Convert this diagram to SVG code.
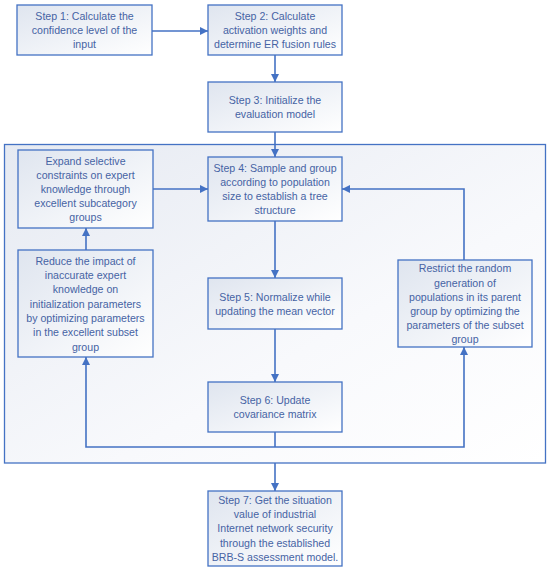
<svg xmlns="http://www.w3.org/2000/svg" width="550" height="569" viewBox="0 0 550 569">
<defs>
<linearGradient id="bg" x1="0" y1="0" x2="1" y2="1">
<stop offset="0" stop-color="#dfe5ef"/>
<stop offset="1" stop-color="#ffffff"/>
</linearGradient>
<linearGradient id="cg" x1="0" y1="0" x2="1" y2="1">
<stop offset="0" stop-color="#e6eaf2"/>
<stop offset="0.6" stop-color="#f8f9fc"/>
<stop offset="1" stop-color="#ffffff"/>
</linearGradient>
<marker id="ah" viewBox="0 0 10 10" refX="10" refY="5" markerWidth="8" markerHeight="8" markerUnits="userSpaceOnUse" orient="auto">
<path d="M0,0 L10,5 L0,10 z" fill="#4472c4"/>
</marker>
<style>
.box{fill:url(#bg);stroke:#4472c4;stroke-width:1.3}
.cont{fill:url(#cg);stroke:#4472c4;stroke-width:1.3}
.t{font-family:"Liberation Sans",Arial,sans-serif;font-size:10.6px;fill:#4663a4;text-anchor:middle}
.c{fill:none;stroke:#4472c4;stroke-width:1.6}
.a{marker-end:url(#ah)}
</style>
</defs>
<rect id="container" class="cont" x="4.5" y="144.5" width="541" height="318.5"/>
<g id="step1"><rect class="box" x="17" y="5" width="135" height="50"/>
<text class="t" x="84.5" y="20">Step 1: Calculate the</text>
<text class="t" x="84.5" y="34">confidence level of the</text>
<text class="t" x="84.5" y="48">input</text></g>
<g id="step2"><rect class="box" x="208" y="5" width="134" height="50"/>
<text class="t" x="275" y="20">Step 2: Calculate</text>
<text class="t" x="275" y="34">activation weights and</text>
<text class="t" x="275" y="48">determine ER fusion rules</text></g>
<g id="step3"><rect class="box" x="208" y="82" width="134" height="50"/>
<text class="t" x="275" y="104">Step 3: Initialize the</text>
<text class="t" x="275" y="118">evaluation model</text></g>
<g id="step4"><rect class="box" x="208" y="157" width="134" height="64"/>
<text class="t" x="275" y="172">Step 4: Sample and group</text>
<text class="t" x="275" y="186">according to population</text>
<text class="t" x="275" y="200">size to establish a tree</text>
<text class="t" x="275" y="214">structure</text></g>
<g id="expand"><rect class="box" x="18" y="150" width="135" height="78"/>
<text class="t" x="85.5" y="165">Expand selective</text>
<text class="t" x="85.5" y="179">constraints on expert</text>
<text class="t" x="85.5" y="193">knowledge through</text>
<text class="t" x="85.5" y="207">excellent subcategory</text>
<text class="t" x="85.5" y="221">groups</text></g>
<g id="reduce"><rect class="box" x="18" y="250" width="135" height="107"/>
<text class="t" x="85.5" y="265">Reduce the impact of</text>
<text class="t" x="85.5" y="279">inaccurate expert</text>
<text class="t" x="85.5" y="293">knowledge on</text>
<text class="t" x="85.5" y="308">initialization parameters</text>
<text class="t" x="85.5" y="322">by optimizing parameters</text>
<text class="t" x="85.5" y="336">in the excellent subset</text>
<text class="t" x="85.5" y="351">group</text></g>
<g id="step5"><rect class="box" x="208" y="278" width="134" height="51"/>
<text class="t" x="275" y="301">Step 5: Normalize while</text>
<text class="t" x="275" y="315">updating the mean vector</text></g>
<g id="restrict"><rect class="box" x="398" y="260" width="134" height="87"/>
<text class="t" x="465" y="272">Restrict  the random</text>
<text class="t" x="465" y="287">generation of</text>
<text class="t" x="465" y="301">populations in its parent</text>
<text class="t" x="465" y="315">group by optimizing the</text>
<text class="t" x="465" y="329">parameters of the subset</text>
<text class="t" x="465" y="343">group</text></g>
<g id="step6"><rect class="box" x="208" y="382" width="134" height="50"/>
<text class="t" x="275" y="404">Step 6: Update</text>
<text class="t" x="275" y="418">covariance matrix</text></g>
<g id="step7"><rect class="box" x="208" y="491" width="134" height="75"/>
<text class="t" x="275" y="504">Step 7: Get the situation</text>
<text class="t" x="275" y="518">value of industrial</text>
<text class="t" x="275" y="532">Internet network security</text>
<text class="t" x="275" y="547">through the established</text>
<text class="t" x="275" y="561">BRB-S assessment model.</text></g>
<g id="connectors">
<line class="c a" x1="152" y1="31" x2="208" y2="31"/>
<line class="c a" x1="275" y1="55" x2="275" y2="82"/>
<line class="c a" x1="275" y1="132" x2="275" y2="157"/>
<line class="c a" x1="153" y1="189" x2="208" y2="189"/>
<line class="c a" x1="86" y1="250" x2="86" y2="228"/>
<line class="c a" x1="275" y1="221" x2="275" y2="278"/>
<line class="c a" x1="275" y1="329" x2="275" y2="382"/>
<polyline class="c a" points="464,260 464,189 342,189"/>
<line class="c" x1="275" y1="432" x2="275" y2="447"/>
<polyline class="c a" points="275,447 86,447 86,357"/>
<polyline class="c a" points="275,447 464,447 464,347"/>
<line class="c a" x1="275" y1="463" x2="275" y2="491"/>
</g>
</svg>
